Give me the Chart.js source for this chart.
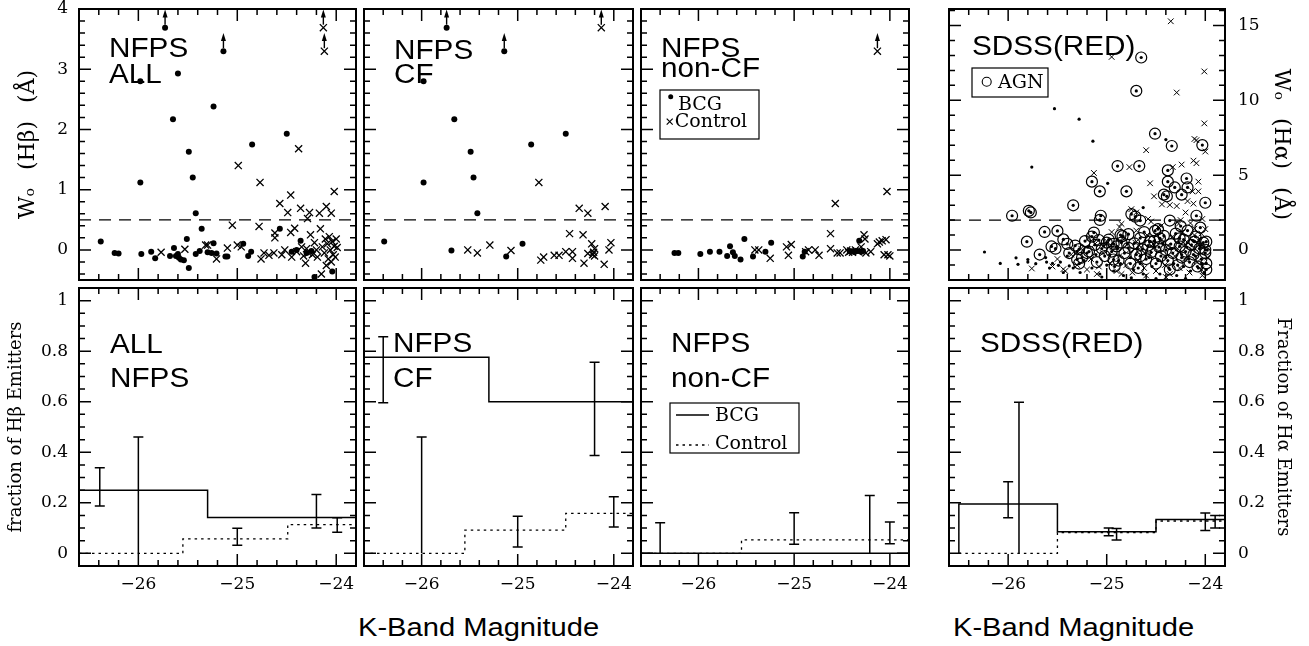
<!DOCTYPE html>
<html>
<head>
<meta charset="utf-8">
<script src="https://cdn.jsdelivr.net/npm/chart.js@4.4.0/dist/chart.umd.min.js"></script>
<style>
body { margin: 0; background: #fff; width: 1309px; height: 646px; overflow: hidden; position: relative; }
canvas { position: absolute; }
.xt { position: absolute; font: 26px "Liberation Sans", Arial, sans-serif; line-height: 26px; color: #000;
      transform: scaleX(1.12); transform-origin: left top; white-space: nowrap; }
</style>
</head>
<body>
<div class="xt" style="left:358px;top:614px">K-Band Magnitude</div>
<div class="xt" style="left:953px;top:614px">K-Band Magnitude</div>
<script>
// K-band magnitude axis, shared by all panels
const xMin = -26.6, xMax = -23.8
const xTickLabels = [-26, -25, -24]
const hbTickLabels = [0, 1, 2, 3, 4]
const haTickLabels = [0, 5, 10, 15]
const fracTickLabels = [0, 0.2, 0.4, 0.6, 0.8, 1]
const hbCut = 0.5
const haCut = 2

// ---- top row: equivalent widths [mag, W0] ----
const allBcg = [[-26.38,0.14],[-26.24,-0.05],[-26.2,-0.06],[-25.98,1.12],[-25.98,2.80],[-25.97,-0.07],[-25.87,-0.03],
  [-25.83,-0.14],[-25.65,2.17],[-25.6,2.93],[-25.68,-0.1],[-25.64,0.03],[-25.62,-0.1],[-25.6,-0.07],[-25.57,-0.16],
  [-25.59,-0.13],[-25.54,-0.17],[-25.51,0.18],[-25.49,1.63],[-25.49,-0.30],[-25.45,1.20],[-25.42,0.61],[-25.42,-0.07],
  [-25.38,-0.02],[-25.36,0.35],[-25.3,-0.04],[-25.26,-0.05],[-25.24,0.11],[-25.24,2.38],[-25.21,-0.06],[-25.12,-0.11],
  [-25.1,-0.11],[-24.94,0.10],[-24.89,-0.10],[-24.86,-0.03],[-24.85,1.75],[-24.57,0.35],[-24.5,1.93],[-24.45,-0.03],
  [-24.4,0.0],[-24.36,0.15],[-24.3,-0.05],[-24.25,-0.02],[-24.22,-0.45],[-24.04,-0.36]]
const allBcgLim = [[-25.73,3.69],[-25.14,3.30]]
const allCtrl = [[-25.77,-0.04],[-25.53,0.01],[-25.32,0.08],[-25.3,0.08],[-25.21,-0.15],[-25.1,0.03],[-25.05,0.41],
  [-24.99,1.40],[-25.0,0.08],[-24.96,0.05],[-24.77,1.12],[-24.78,0.39],[-24.76,-0.15],[-24.73,-0.05],[-24.68,-0.09],
  [-24.63,-0.05],[-24.62,0.28],[-24.62,0.2],[-24.57,0.77],[-24.55,-0.08],[-24.52,0.0],[-24.49,0.62],[-24.46,0.91],
  [-24.46,0.29],[-24.45,-0.12],[-24.42,0.36],[-24.4,-0.03],[-24.38,1.68],[-24.36,0.69],[-24.35,0.05],[-24.33,-0.1],
  [-24.31,-0.22],[-24.3,0.02],[-24.29,0.52],[-24.28,-0.05],[-24.27,0.62],[-24.26,0.25],[-24.24,-0.08],[-24.22,0.12],
  [-24.2,0.0],[-24.19,-0.12],[-24.17,0.61],[-24.16,0.35],[-24.15,-0.4],[-24.14,0.05],[-24.12,-0.05],[-24.11,0.18],
  [-24.1,0.72],[-24.1,-0.26],[-24.09,0.1],[-24.08,-0.15],[-24.07,0.22],[-24.06,0.0],[-24.05,0.61],[-24.05,-0.2],
  [-24.04,0.14],[-24.03,-0.08],[-24.02,0.97],[-24.02,0.06],[-24.01,-0.12],[-24.0,0.18],[-23.99,0.04]]
const allCtrlLim = [[-24.13,3.69],[-24.12,3.30]]

const cfBcg = [[-26.39,0.14],[-25.98,1.12],[-25.98,2.80],[-25.69,-0.01],[-25.66,2.17],[-25.49,1.63],[-25.46,1.20],
  [-25.42,0.61],[-25.12,-0.11],[-24.95,0.10],[-24.86,1.75],[-24.5,1.93]]
const cfBcgLim = [[-25.74,3.69],[-25.14,3.30]]
const cfCtrl = [[-25.52,0.0],[-25.42,-0.05],[-25.29,0.08],[-25.07,-0.01],[-24.78,1.12],[-24.76,-0.17],[-24.73,-0.12],
  [-24.62,-0.09],[-24.57,-0.09],[-24.5,-0.03],[-24.46,0.27],[-24.43,-0.03],[-24.43,-0.14],[-24.36,0.69],[-24.32,0.25],
  [-24.31,-0.22],[-24.27,0.61],[-24.27,-0.06],[-24.23,0.10],[-24.22,-0.08],[-24.21,-0.04],[-24.2,-0.1],[-24.2,0.02],
  [-24.1,-0.24],[-24.09,0.72],[-24.05,0.0],[-24.03,0.12]]
const cfCtrlLim = [[-24.13,3.69]]

const ncfBcg = [[-26.25,-0.05],[-26.21,-0.05],[-25.98,-0.07],[-25.88,-0.03],[-25.78,-0.03],[-25.7,-0.1],[-25.67,0.06],
  [-25.64,-0.04],[-25.62,-0.1],[-25.56,-0.16],[-25.52,0.18],[-25.43,-0.11],[-25.3,-0.03],[-25.24,0.12],[-24.91,-0.11],
  [-24.89,-0.03],[-24.42,-0.02],[-24.38,-0.03],[-24.34,-0.02],[-24.32,0.15],[-24.3,-0.03],[-24.28,-0.02]]
const ncfBcgLim = []
const ncfCtrl = [[-25.41,0.0],[-25.37,0.0],[-25.25,-0.14],[-25.08,0.05],[-25.06,-0.09],[-25.03,0.09],[-24.88,-0.03],
  [-24.85,0.0],[-24.78,0.0],[-24.74,-0.09],[-24.62,0.27],[-24.62,0.02],[-24.57,0.77],[-24.55,-0.05],[-24.52,-0.05],
  [-24.45,0.0],[-24.43,-0.04],[-24.41,-0.02],[-24.39,-0.04],[-24.36,0.0],[-24.33,-0.03],[-24.3,0.05],[-24.27,0.25],
  [-24.26,0.18],[-24.25,-0.05],[-24.2,-0.03],[-24.13,0.10],[-24.11,0.13],[-24.08,0.15],[-24.06,-0.08],[-24.04,0.17],
  [-24.03,0.97],[-24.02,-0.08],[-24.0,-0.1]]
const ncfCtrlLim = [[-24.13,3.30]]

// SDSS red sample, W0(Halpha)
const sdssDot = [[-26.24,-0.13],[-26.08,-0.89],[-25.92,-0.52],[-25.9,-0.95],[-25.8,-0.63],[-25.8,-0.8],[-25.76,5.54],
  [-25.72,-0.91],[-25.61,-0.8],[-25.55,-0.89],[-25.53,9.44],[-25.49,-1.02],[-25.38,-1.06],[-25.28,8.74],[-25.14,7.27],
  [-24.99,4.46],[-24.63,2.84],[-24.4,7.38],
  [-25.62,-0.5],[-25.58,-1.2],[-25.47,-0.8],[-25.44,-1.5],[-25.4,-0.4],[-25.34,-1.2],[-25.3,-0.1],[-25.27,-1.5],
  [-25.23,-0.7],[-25.19,0.2],[-25.15,-1.2],[-25.11,-0.3],[-25.07,-1.6],[-25.03,0.3],[-25.0,-1.0],[-24.97,-0.3],
  [-24.93,-1.4],[-24.89,0.1],[-24.86,-0.9],[-24.83,-1.7],[-24.79,0.4],[-24.76,-0.5],[-24.73,-1.3],[-24.69,0.1],
  [-24.66,-0.9],[-24.63,-1.6],[-24.61,0.6],[-24.57,-0.5],[-24.54,-1.1],[-24.51,0.2],[-24.48,-0.7],[-24.46,-1.6],
  [-24.43,0.4],[-24.4,-0.5],[-24.37,-1.2],[-24.34,0.1],[-24.32,-0.9],[-24.29,-1.7],[-24.27,0.5],[-24.24,-0.3],
  [-24.22,-1.1],[-24.19,0.2],[-24.17,-0.6],[-24.15,-1.4],[-24.12,0.6],[-24.1,-0.4],[-24.07,-1.2],[-24.05,0.3],
  [-24.03,-0.9],[-24.01,-1.5],[-23.98,0.0],[-24.2,-1.9],[-24.5,-1.9],[-24.75,-1.85],[-25.05,-1.8]]
const sdssCtrl = [[-24.35,15.28],[-24.95,12.9],[-24.01,11.93],[-24.29,10.52],[-24.01,8.46],[-24.11,7.42],[-24.09,7.34],
  [-24.0,6.58],[-24.6,6.67],[-24.12,5.97],[-24.09,5.8],[-24.24,5.71],[-24.33,5.54],[-24.77,5.54],[-25.13,5.15],
  [-24.56,4.46],[-24.07,4.57],[-24.07,3.92],[-24.13,3.92],[-24.52,3.59],[-24.44,3.05],[-24.36,3.01],[-24.29,2.94],
  [-24.18,3.27],[-24.12,3.1],[-24.75,2.73],[-24.85,1.75],[-24.58,2.08],[-24.2,2.51],[-24.27,1.75],[-24.03,2.08],
  [-25.76,-1.23],[-25.44,-1.28],[-25.19,0.78],[-24.7,2.51],[-24.48,1.54],[-24.04,1.1],[-24.11,1.43],[-24.87,1.54],
  [-25.55,-1.1],[-25.5,-0.6],[-25.42,-1.4],[-25.36,-0.3],[-25.3,-1.0],[-25.26,0.1],[-25.2,-1.3],[-25.16,-0.6],
  [-25.12,0.4],[-25.08,-1.1],[-25.04,-0.2],[-25.0,0.6],[-24.97,-0.9],[-24.94,0.2],[-24.9,-1.4],[-24.87,-0.4],
  [-24.84,0.8],[-24.8,-1.0],[-24.77,0.0],[-24.74,-1.5],[-24.71,0.5],[-24.68,-0.7],[-24.65,0.2],[-24.62,-1.2],
  [-24.59,1.0],[-24.56,-0.3],[-24.53,0.4],[-24.5,-1.4],[-24.47,-0.1],[-24.44,0.7],[-24.41,-1.0],[-24.38,0.3],
  [-24.36,-1.6],[-24.33,0.9],[-24.31,-0.4],[-24.28,0.1],[-24.26,-1.2],[-24.23,1.2],[-24.21,-0.6],[-24.18,0.5],
  [-24.16,-1.5],[-24.13,0.0],[-24.11,1.0],[-24.08,-0.8],[-24.06,0.6],[-24.04,-1.3],[-24.02,0.2],[-24.0,1.4],
  [-23.98,-0.5],[-24.45,1.6],[-24.15,1.8],[-24.7,1.3],[-24.95,1.2],[-24.25,2.0],[-24.55,1.9],[-24.03,-1.7],
  [-24.6,-1.7],[-24.85,-1.6],[-25.1,-1.6],[-24.4,-1.8]]
const sdssAgn = [[-25.96,2.29],[-25.79,2.62],[-25.77,2.51],[-25.81,0.56],[-25.63,1.21],[-25.5,1.28],[-25.44,0.71],
  [-25.4,0.41],[-25.68,-0.3],[-25.56,0.24],[-25.52,0.09],[-25.34,2.99],[-25.28,0.06],[-25.15,4.57],[-25.07,3.92],
  [-25.06,2.29],[-25.07,2.01],[-25.13,1.17],[-25.08,0.67],[-24.89,5.61],[-24.8,3.92],[-24.65,12.86],[-24.7,10.63],
  [-24.67,5.61],[-24.75,2.4],[-24.71,2.23],[-24.66,1.97],[-24.51,7.77],[-24.51,1.28],[-24.34,6.95],[-24.38,5.32],
  [-24.38,4.57],[-24.31,4.18],[-24.19,4.78],[-24.18,4.18],[-24.24,3.7],[-24.42,3.7],[-24.39,3.59],[-24.36,1.97],
  [-24.09,2.29],[-24.03,7.01],[-24.0,3.16],[-23.99,0.56],[-24.78,1.06],[-24.84,0.93],[-25.0,0.5],[-24.93,0.41],
  [-24.56,0.56],[-24.46,0.78],[-24.26,0.78],[-24.11,0.56],[-24.0,0.02],[-23.99,-0.89],[-25.2,-0.2],[-25.3,-0.63],
  [-24.93,-0.63],[-24.66,-0.41],
  [-25.38,-0.2],[-25.32,0.3],[-25.25,-0.5],[-25.22,0.6],[-25.18,-0.1],[-25.12,0.35],[-25.1,-0.8],[-25.05,0.1],
  [-25.02,-0.4],[-24.98,0.7],[-24.95,-0.1],[-24.9,0.25],[-24.88,-0.7],[-24.85,0.5],[-24.82,-0.2],[-24.78,0.15],
  [-24.76,-0.9],[-24.72,0.45],[-24.7,-0.3],[-24.66,0.8],[-24.64,0.05],[-24.6,-0.6],[-24.58,0.3],[-24.55,-0.15],
  [-24.52,0.6],[-24.5,-0.9],[-24.47,0.2],[-24.45,-0.4],[-24.42,0.95],[-24.4,0.0],[-24.38,-0.7],[-24.35,0.4],
  [-24.33,-0.2],[-24.3,1.1],[-24.28,-1.0],[-24.26,0.25],[-24.24,-0.5],[-24.22,0.7],[-24.2,-0.1],[-24.18,1.3],
  [-24.16,-0.8],[-24.14,0.35],[-24.12,-0.3],[-24.1,0.9],[-24.08,-1.1],[-24.06,0.1],[-24.04,-0.6],[-24.02,0.5],
  [-24.0,-0.2],[-23.99,-1.3],[-24.62,1.2],[-24.86,1.0],[-25.15,0.9],[-24.48,1.4],[-24.25,1.6],[-24.05,1.5],
  [-25.28,-0.9],[-24.92,-1.1],[-24.68,-1.2],[-24.36,-1.3]]

// ---- bottom row: emitter fractions (step edges + error bars) ----
const allBcgEdge = [-26.6, -25.3, -23.8], allBcgFrac = [0.25, 0.142, 0.142]
const allCtrlEdge = [-26.6, -25.55, -24.49, -23.8], allCtrlFrac = [0, 0.057, 0.114, 0.114]
const allBcgErrX = [-26.39, -26.0, -24.2], allBcgErrLo = [0.187, 0, 0.10], allBcgErrHi = [0.339, 0.46, 0.233]
const allCtrlErrX = [-25.0, -23.99], allCtrlErrLo = [0.032, 0.084], allCtrlErrHi = [0.099, 0.141]

const cfBcgEdge = [-26.6, -25.3, -23.8], cfBcgFrac = [0.776, 0.60, 0.60]
const cfCtrlEdge = [-26.6, -25.55, -24.5, -23.8], cfCtrlFrac = [0, 0.092, 0.158, 0.158]
const cfBcgErrX = [-26.4, -26.0, -24.2], cfBcgErrLo = [0.596, 0, 0.387], cfBcgErrHi = [0.857, 0.46, 0.756]
const cfCtrlErrX = [-25.0, -24.0], cfCtrlErrLo = [0.025, 0.104], cfCtrlErrHi = [0.147, 0.224]

const ncfBcgEdge = [-26.6, -23.8], ncfBcgFrac = [0, 0]
const ncfCtrlEdge = [-26.6, -25.55, -23.8], ncfCtrlFrac = [0, 0.053, 0.053]
const ncfBcgErrX = [-26.4, -24.21], ncfBcgErrLo = [0, 0], ncfBcgErrHi = [0.121, 0.229]
const ncfCtrlErrX = [-25.0, -24.0], ncfCtrlErrLo = [0.036, 0.038], ncfCtrlErrHi = [0.161, 0.124]

const sdssBcgEdge = [-26.5, -26.5, -25.5, -24.5, -23.8], sdssBcgFrac = [0, 0.195, 0.086, 0.134, 0.134]
const sdssCtrlEdge = [-26.5, -25.5, -24.5, -23.8], sdssCtrlFrac = [0, 0.082, 0.128, 0.128]
const sdssBcgErrX = [-26.0, -24.98, -24.0], sdssBcgErrLo = [0.141, 0.07, 0.09], sdssBcgErrHi = [0.283, 0.10, 0.16]
const sdssCtrlErrX = [-25.89, -24.9, -23.9], sdssCtrlErrLo = [0, 0.053, 0.10], sdssCtrlErrHi = [0.598, 0.098, 0.15]

// page layout of the panels
const cols = [[79, 356], [356, 633], [633, 909], [949, 1225]]
const rows = [[9, 288], [288, 566]]
const tickFont = { family: 'DejaVu Serif', size: 17 }

const pts = a => a.map(p => ({ x: p[0], y: p[1] }))
const steps = (xs, ys) => xs.map((x, i) => ({ x: x, y: ys[i] }))
const fmt = v => (v < 0 ? '\u2212' : '') + String(Math.round(Math.abs(v) * 100) / 100)

function eachTick(min, max, minor, major, fn) {
    const k0 = Math.ceil(min / minor - 1e-9), k1 = Math.floor(max / minor + 1e-9)
    for (let k = k0; k <= k1; k++) {
        const v = k * minor
        fn(v, Math.abs(v / major - Math.round(v / major)) < 1e-6)
    }
}

function cutLine(y) {
    return { data: [{ x: xMin, y: y }, { x: xMax, y: y }], showLine: true, pointRadius: 0,
        borderColor: '#000', borderWidth: 1.2, borderDash: [12, 8] }
}
function dotSet(a, r) {
    return { data: pts(a), pointStyle: 'circle', pointRadius: r, backgroundColor: '#000', borderWidth: 0 }
}
function crossSet(a, r, w) {
    return { data: pts(a), pointStyle: 'crossRot', pointRadius: r, borderColor: '#000', borderWidth: w }
}
// 'before' in Chart.js = hold the previous value, then jump at the next edge
function stepSet(xs, ys, dash) {
    return { data: steps(xs, ys), showLine: true, stepped: 'before', pointRadius: 0, fill: false,
        borderColor: '#000', borderWidth: dash ? 1.3 : 1.5, borderDash: dash ? [2.5, 4] : [] }
}

function decor(p) {
    return {
        id: 'decor',
        afterDatasetsDraw(chart) {
            const { ctx, chartArea: a } = chart
            const xs = chart.scales.x, ys = chart.scales.y
            ctx.save()
            ctx.strokeStyle = '#000'
            ctx.fillStyle = '#000'

            // inward ticks on all four sides
            ctx.lineWidth = 1.5
            ctx.beginPath()
            eachTick(xMin, xMax, 0.2, 1, (v, big) => {
                const px = xs.getPixelForValue(v), len = big ? 12 : 6
                ctx.moveTo(px, a.bottom); ctx.lineTo(px, a.bottom - len)
                ctx.moveTo(px, a.top); ctx.lineTo(px, a.top + len)
            })
            eachTick(p.yMin, p.yMax, p.yMinor, p.yMajor, (v, big) => {
                const py = ys.getPixelForValue(v), len = big ? 12 : 6
                ctx.moveTo(a.left, py); ctx.lineTo(a.left + len, py)
                ctx.moveTo(a.right, py); ctx.lineTo(a.right - len, py)
            })
            ctx.stroke()

            ctx.lineWidth = 2
            ctx.strokeRect(a.left, a.top, a.right - a.left, a.bottom - a.top)

            // lower limits: arrows
            ctx.lineWidth = 1.4
            ;(p.limits || []).forEach(([x, y]) => {
                const px = xs.getPixelForValue(x)
                const p0 = ys.getPixelForValue(y) - 3, p1 = ys.getPixelForValue(y + 0.3)
                ctx.beginPath(); ctx.moveTo(px, p0); ctx.lineTo(px, p1 + 6); ctx.stroke()
                ctx.beginPath(); ctx.moveTo(px, p1); ctx.lineTo(px - 2.5, p1 + 8); ctx.lineTo(px + 2.5, p1 + 8)
                ctx.closePath(); ctx.fill()
            })

            // error bars
            ctx.lineWidth = 1.5
            ;(p.errors || []).forEach(e => {
                e.x.forEach((x, i) => {
                    const px = xs.getPixelForValue(x)
                    const lo = ys.getPixelForValue(e.lo[i]), hi = ys.getPixelForValue(e.hi[i])
                    ctx.beginPath()
                    ctx.moveTo(px, lo); ctx.lineTo(px, hi)
                    ctx.moveTo(px - 5, hi); ctx.lineTo(px + 5, hi)
                    if (e.lo[i] > 0) { ctx.moveTo(px - 5, lo); ctx.lineTo(px + 5, lo) }
                    ctx.stroke()
                })
            })

            // panel names
            ctx.font = '27px "Liberation Sans", Arial, sans-serif'
            ctx.textBaseline = 'alphabetic'
            ctx.textAlign = 'left'
            p.names.forEach((t, i) => {
                ctx.save()
                ctx.translate(a.left + p.nameX, a.top + p.nameY[i])
                ctx.scale(1.1, 1)
                ctx.fillText(t, 0, 0)
                ctx.restore()
            })

            // legend box
            if (p.legend) {
                const g = p.legend
                ctx.lineWidth = 1.2
                ctx.strokeRect(a.left + g.box[0], a.top + g.box[1], g.box[2], g.box[3])
                ctx.font = '19px "DejaVu Serif", serif'
                g.items.forEach(it => {
                    const sx = a.left + it.sx, sy = a.top + it.sy
                    ctx.beginPath()
                    if (it.sym === 'dot') { ctx.arc(sx, sy, 2.5, 0, Math.PI * 2); ctx.fill() }
                    if (it.sym === 'cross') {
                        ctx.lineWidth = 1.2
                        ctx.moveTo(sx - 3, sy - 3); ctx.lineTo(sx + 3, sy + 3)
                        ctx.moveTo(sx - 3, sy + 3); ctx.lineTo(sx + 3, sy - 3); ctx.stroke()
                    }
                    if (it.sym === 'ring') { ctx.lineWidth = 1.1; ctx.arc(sx, sy, 4.5, 0, Math.PI * 2); ctx.stroke() }
                    if (it.sym === 'line' || it.sym === 'dash') {
                        ctx.lineWidth = it.sym === 'line' ? 1.5 : 1.3
                        ctx.setLineDash(it.sym === 'line' ? [] : [2.5, 4])
                        ctx.moveTo(sx, sy); ctx.lineTo(sx + 33, sy); ctx.stroke()
                        ctx.setLineDash([])
                    }
                    ctx.fillText(it.text, a.left + it.tx, a.top + it.ty)
                })
            }
            ctx.restore()
        }
    }
}

function makePanel(p) {
    const L = cols[p.col][0], R = cols[p.col][1]
    const T = rows[p.row][0], B = rows[p.row][1]
    const ml = p.yPos === 'left' ? L : 8
    const mr = p.yPos === 'right' ? 1309 - R : 8
    const mt = 20, mb = p.xLabels ? 46 : 8
    const cv = document.createElement('canvas')
    cv.width = R - L + ml + mr
    cv.height = B - T + mt + mb
    cv.style.left = (L - ml) + 'px'
    cv.style.top = (T - mt) + 'px'
    document.body.appendChild(cv)

    new Chart(cv, {
        type: 'scatter',
        data: { datasets: p.datasets },
        options: {
            responsive: false,
            animation: false,
            events: [],
            layout: { padding: { left: p.yPos === 'left' ? 0 : 8, right: p.yPos === 'right' ? 0 : 8,
                top: mt, bottom: p.xLabels ? 0 : 8 } },
            scales: {
                x: {
                    type: 'linear', min: xMin, max: xMax, position: 'bottom', display: !!p.xLabels,
                    grid: { display: false, drawTicks: false }, border: { display: false },
                    ticks: { font: tickFont, color: '#000', padding: 8, autoSkip: false, maxRotation: 0, callback: fmt },
                    afterBuildTicks: s => { s.ticks = xTickLabels.map(v => ({ value: v })) },
                    afterFit: s => { s.height = mb; s.paddingLeft = 0; s.paddingRight = 0 }
                },
                y: {
                    type: 'linear', min: p.yMin, max: p.yMax, position: p.yPos || 'left', display: !!p.yPos,
                    grid: { display: false, drawTicks: false }, border: { display: false },
                    ticks: { font: tickFont, color: '#000', padding: p.yPos === 'left' ? 11 : 13, autoSkip: false, callback: fmt },
                    afterBuildTicks: s => { s.ticks = p.yTicks.map(v => ({ value: v })) },
                    afterFit: s => { s.width = p.yPos === 'left' ? ml : mr; s.paddingTop = 0; s.paddingBottom = 0 },
                    title: { display: !!p.yTitle, text: p.yTitle, color: '#000',
                        font: { family: 'DejaVu Serif', size: p.yTitleSize || 18 },
                        padding: { top: p.yTitlePad || 0, bottom: 0 } }
                }
            },
            plugins: { legend: { display: false }, tooltip: { enabled: false } }
        },
        plugins: [decor(p)]
    })
}

const hbAxis = { yMin: -0.5, yMax: 4, yMajor: 1, yMinor: 0.2, yTicks: hbTickLabels }
const fracAxis = { yMin: -0.05, yMax: 1.05, yMajor: 0.2, yMinor: 0.05, yTicks: fracTickLabels }

// top row
makePanel(Object.assign({}, hbAxis, {
    col: 0, row: 0, yPos: 'left', yTitle: 'W\u2092\u2002 (H\u03B2)\u2002 (\u00C5)', yTitleSize: 22, yTitlePad: 15,
    datasets: [cutLine(hbCut), dotSet(allBcg.concat(allBcgLim), 3), crossSet(allCtrl.concat(allCtrlLim), 5, 1.3)],
    limits: allBcgLim.concat(allCtrlLim), names: ['NFPS', 'ALL'], nameX: 30, nameY: [48, 74]
}))
makePanel(Object.assign({}, hbAxis, {
    col: 1, row: 0,
    datasets: [cutLine(hbCut), dotSet(cfBcg.concat(cfBcgLim), 3), crossSet(cfCtrl.concat(cfCtrlLim), 5, 1.3)],
    limits: cfBcgLim.concat(cfCtrlLim), names: ['NFPS', 'CF'], nameX: 30, nameY: [50, 74]
}))
makePanel(Object.assign({}, hbAxis, {
    col: 2, row: 0,
    datasets: [cutLine(hbCut), dotSet(ncfBcg.concat(ncfBcgLim), 3), crossSet(ncfCtrl.concat(ncfCtrlLim), 5, 1.3)],
    limits: ncfBcgLim.concat(ncfCtrlLim), names: ['NFPS', 'non-CF'], nameX: 20, nameY: [48, 68],
    legend: { box: [19, 81, 99, 49], items: [
        { sym: 'dot', sx: 29.7, sy: 87.7, text: 'BCG', tx: 37, ty: 101 },
        { sym: 'cross', sx: 28.7, sy: 112.7, text: 'Control', tx: 33.7, ty: 118 }] }
}))
makePanel({
    col: 3, row: 0, yPos: 'right', yMin: -2, yMax: 16.1, yMajor: 5, yMinor: 1, yTicks: haTickLabels,
    yTitle: 'W\u2092\u2002 (H\u03B1)\u2002 (\u00C5)', yTitleSize: 22, yTitlePad: 15,
    datasets: [cutLine(haCut), dotSet(sdssDot, 1.6), crossSet(sdssCtrl, 4, 1),
        dotSet(sdssAgn, 1.6),
        { data: pts(sdssAgn), pointStyle: 'circle', pointRadius: 5.5, backgroundColor: 'rgba(0,0,0,0)',
          borderColor: '#000', borderWidth: 1.2 }],
    names: ['SDSS(RED)'], nameX: 23, nameY: [46],
    legend: { box: [23, 59, 76, 29], items: [{ sym: 'ring', sx: 37.7, sy: 72.7, text: 'AGN', tx: 49, ty: 79 }] }
})

// bottom row
makePanel(Object.assign({}, fracAxis, {
    col: 0, row: 1, yPos: 'left', xLabels: true, yTitle: 'fraction of H\u03B2 Emitters', yTitleSize: 18, yTitlePad: 6,
    datasets: [stepSet(allBcgEdge, allBcgFrac, false), stepSet(allCtrlEdge, allCtrlFrac, true)],
    errors: [{ x: allBcgErrX, lo: allBcgErrLo, hi: allBcgErrHi }, { x: allCtrlErrX, lo: allCtrlErrLo, hi: allCtrlErrHi }],
    names: ['ALL', 'NFPS'], nameX: 31, nameY: [65, 99]
}))
makePanel(Object.assign({}, fracAxis, {
    col: 1, row: 1, xLabels: true,
    datasets: [stepSet(cfBcgEdge, cfBcgFrac, false), stepSet(cfCtrlEdge, cfCtrlFrac, true)],
    errors: [{ x: cfBcgErrX, lo: cfBcgErrLo, hi: cfBcgErrHi }, { x: cfCtrlErrX, lo: cfCtrlErrLo, hi: cfCtrlErrHi }],
    names: ['NFPS', 'CF'], nameX: 29, nameY: [64, 99]
}))
makePanel(Object.assign({}, fracAxis, {
    col: 2, row: 1, xLabels: true,
    datasets: [stepSet(ncfBcgEdge, ncfBcgFrac, false), stepSet(ncfCtrlEdge, ncfCtrlFrac, true)],
    errors: [{ x: ncfBcgErrX, lo: ncfBcgErrLo, hi: ncfBcgErrHi }, { x: ncfCtrlErrX, lo: ncfCtrlErrLo, hi: ncfCtrlErrHi }],
    names: ['NFPS', 'non-CF'], nameX: 30, nameY: [64, 99],
    legend: { box: [29, 115, 129, 50], items: [
        { sym: 'line', sx: 35, sy: 127, text: 'BCG', tx: 74, ty: 133 },
        { sym: 'dash', sx: 35, sy: 157, text: 'Control', tx: 74, ty: 161 }] }
}))
makePanel(Object.assign({}, fracAxis, {
    col: 3, row: 1, yPos: 'right', xLabels: true, yTitle: 'Fraction of H\u03B1 Emitters', yTitleSize: 18, yTitlePad: 16,
    datasets: [stepSet(sdssBcgEdge, sdssBcgFrac, false), stepSet(sdssCtrlEdge, sdssCtrlFrac, true)],
    errors: [{ x: sdssBcgErrX, lo: sdssBcgErrLo, hi: sdssBcgErrHi }, { x: sdssCtrlErrX, lo: sdssCtrlErrLo, hi: sdssCtrlErrHi }],
    names: ['SDSS(RED)'], nameX: 31, nameY: [64]
}))
</script>
</body>
</html>
